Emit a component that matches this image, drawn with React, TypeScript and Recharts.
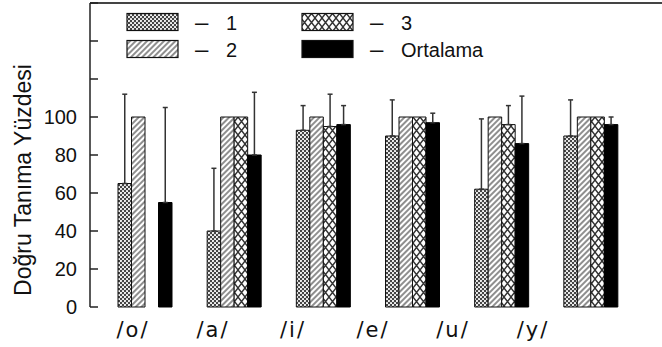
import React from "react";
import {
  BarChart,
  Bar,
  XAxis,
  YAxis,
  ErrorBar,
  ReferenceLine,
} from "recharts";

// values (percent correct recognition)
const categories = ["/o/", "/a/", "/i/", "/e/", "/u/", "/y/"];
const set1 = [65, 40, 93, 90, 62, 90];
const set2 = [100, 100, 100, 100, 100, 100];
const set3 = [0, 100, 95, 100, 96, 100];
const average = [55, 80, 96, 97, 86, 96];
// upward error bars only (std. dev.)
const err1 = [47, 33, 13, 19, 37, 19];
const err3 = [null, null, 17, null, 10, null];
const errAvg = [50, 33, 10, 5, 25, 4];

const yTicks = [0, 20, 40, 60, 80, 100, 120, 140, 160];
const yTickLabels = ["0", "20", "40", "60", "80", "100", "", ""];

const legendNames = ["1", "2", "3", "Ortalama"];
const fills = ["url(#pDots)", "url(#pHatch)", "url(#pCross)", "#000"];

const data = categories.map((name, i) => ({
  name,
  s1: set1[i],
  s2: set2[i],
  s3: set3[i],
  avg: average[i],
  e1: err1[i] == null ? null : [0, err1[i]],
  e3: err3[i] == null ? null : [0, err3[i]],
  eAvg: errAvg[i] == null ? null : [0, errAvg[i]],
}));

const INK = "#222";
const LABEL_FONT = "'Liberation Sans', Arial, sans-serif";

function YTick({ x, y, index }: any) {
  return (
    <g>
      <line x1={x} x2={x + 8} y1={y} y2={y} stroke={INK} strokeWidth={1.5} />
      <text
        x={x - 13}
        y={y + 7}
        textAnchor="end"
        fontSize={20}
        fontFamily={LABEL_FONT}
        fill="#111"
      >
        {yTickLabels[index]}
      </text>
    </g>
  );
}

function XTick({ x, y, payload }: any) {
  return (
    <text
      x={x}
      y={y + 30}
      textAnchor="middle"
      fontSize={21}
      letterSpacing={2}
      fontFamily="'DejaVu Sans', sans-serif"
      fill="#111"
    >
      {payload.value}
    </text>
  );
}

function Patterns() {
  return (
    <svg width={0} height={0} style={{ position: "absolute" }}>
      <defs>
        <pattern id="pDots" width={4} height={4} patternUnits="userSpaceOnUse">
          <rect width={4} height={4} fill="#444" />
          <circle cx={1} cy={1} r={1.05} fill="#fff" />
          <circle cx={3} cy={3} r={1.05} fill="#fff" />
        </pattern>
        <pattern
          id="pHatch"
          width={4}
          height={4}
          patternUnits="userSpaceOnUse"
          patternTransform="rotate(45)"
        >
          <rect width={4} height={4} fill="#fff" />
          <line x1={1} y1={0} x2={1} y2={4} stroke="#444" strokeWidth={1.2} />
        </pattern>
        <pattern id="pCross" width={7} height={9} patternUnits="userSpaceOnUse">
          <rect width={7} height={9} fill="#fff" />
          <path d="M0,0 L7,9 M7,0 L0,9" stroke="#333" strokeWidth={1.4} />
        </pattern>
      </defs>
    </svg>
  );
}

function LegendBox() {
  return (
    <svg
      width={662}
      height={70}
      style={{ position: "absolute", left: 0, top: 0, pointerEvents: "none" }}
    >
      {legendNames.map((name, i) => {
        const col = i < 2 ? 0 : 1;
        const row = i % 2;
        const sx = col === 0 ? 127 : 302;
        const sy = row === 0 ? 13.5 : 40.5;
        return (
          <g key={name}>
            <rect
              x={sx}
              y={sy}
              width={51}
              height={17}
              fill={fills[i]}
              stroke="#111"
              strokeWidth={1.2}
            />
            <text
              x={sx + 68}
              y={sy + 16}
              fontSize={24}
              fontFamily={LABEL_FONT}
              fill="#111"
            >
              –
            </text>
            <text
              x={sx + 99}
              y={sy + 16}
              fontSize={20}
              fontFamily={LABEL_FONT}
              fill="#111"
            >
              {name}
            </text>
          </g>
        );
      })}
    </svg>
  );
}

export default function App() {
  return (
    <div
      style={{
        position: "absolute",
        left: 0,
        top: 0,
        width: 662,
        height: 347,
        overflow: "hidden",
        background: "#fff",
      }}
    >
      <Patterns />
      <BarChart
        width={664}
        height={347}
        data={data}
        margin={{ top: 3, right: 1, bottom: 0, left: 0 }}
        barGap={0}
        barSize={13.5}
      >
        <XAxis
          xAxisId="bars"
          dataKey="name"
          height={0}
          tick={false}
          tickLine={false}
          axisLine={{ stroke: INK, strokeWidth: 1.5 }}
          padding={{ left: 10, right: 28 }}
        />
        <XAxis
          xAxisId="labels"
          dataKey="name"
          height={40}
          axisLine={false}
          tickLine={false}
          tickSize={0}
          tickMargin={0}
          padding={{ left: 3, right: 90 }}
          tick={<XTick />}
          interval={0}
        />
        <YAxis
          yAxisId="left"
          width={90}
          domain={[0, 160]}
          ticks={yTicks}
          interval={0}
          tickLine={false}
          tickSize={0}
          tickMargin={0}
          axisLine={{ stroke: INK, strokeWidth: 1.5 }}
          tick={<YTick />}
          label={{
            content: ({ viewBox }: any) => {
              const cx = 23;
              const cy = viewBox.y + viewBox.height / 2 + 25;
              return (
                <text
                  x={cx}
                  y={cy}
                  transform={`rotate(-90 ${cx} ${cy})`}
                  textAnchor="middle"
                  dominantBaseline="central"
                  fontSize={23}
                  fontFamily={LABEL_FONT}
                  fill="#111"
                >
                  Doğru Tanıma Yüzdesi
                </text>
              );
            },
          }}
        />
        <YAxis
          yAxisId="right"
          orientation="right"
          mirror
          domain={[0, 160]}
          ticks={yTicks}
          interval={0}
          tickSize={3}
          tickFormatter={() => ""}
          tickLine={{ stroke: "#555" }}
          axisLine={false}
        />
        <ReferenceLine
          xAxisId="bars"
          yAxisId="left"
          y={160}
          stroke="#444"
          strokeWidth={2}
        />
        <Bar
          xAxisId="bars"
          yAxisId="left"
          dataKey="s1"
          fill={fills[0]}
          stroke="#111"
          strokeWidth={1}
          isAnimationActive={false}
        >
          <ErrorBar dataKey="e1" width={2.5} stroke="#333" strokeWidth={1.5} direction="y" />
        </Bar>
        <Bar
          xAxisId="bars"
          yAxisId="left"
          dataKey="s2"
          fill={fills[1]}
          stroke="#111"
          strokeWidth={1}
          isAnimationActive={false}
        />
        <Bar
          xAxisId="bars"
          yAxisId="left"
          dataKey="s3"
          fill={fills[2]}
          stroke="#111"
          strokeWidth={1}
          isAnimationActive={false}
        >
          <ErrorBar dataKey="e3" width={2.5} stroke="#333" strokeWidth={1.5} direction="y" />
        </Bar>
        <Bar
          xAxisId="bars"
          yAxisId="left"
          dataKey="avg"
          fill={fills[3]}
          stroke="#000"
          strokeWidth={1}
          isAnimationActive={false}
        >
          <ErrorBar dataKey="eAvg" width={2.5} stroke="#333" strokeWidth={1.5} direction="y" />
        </Bar>
      </BarChart>
      <LegendBox />
    </div>
  );
}
